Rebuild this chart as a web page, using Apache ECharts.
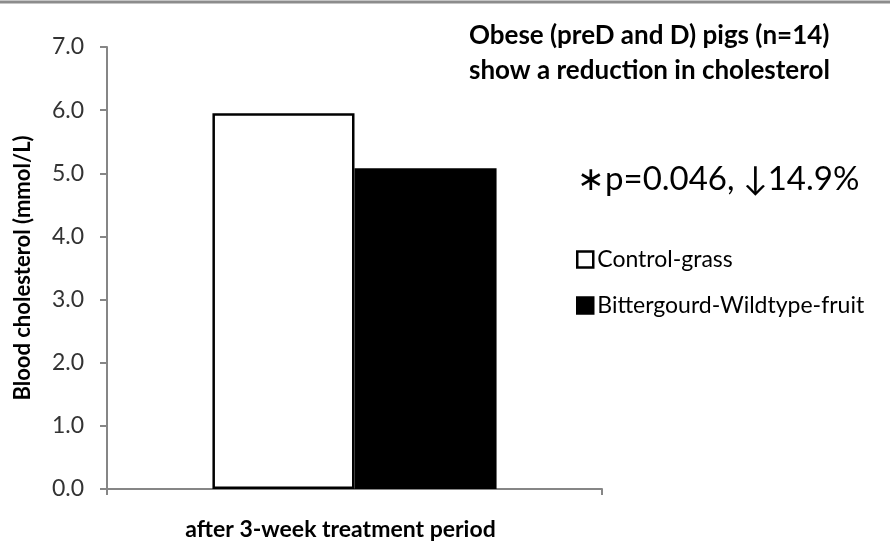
<!DOCTYPE html>
<html><head><meta charset="utf-8">
<script src="https://cdn.jsdelivr.net/npm/echarts@6/dist/echarts.min.js"></script>
<style>html,body{margin:0;padding:0;background:#fff}#c{width:890px;height:559px}</style>
</head><body><div id="c"></div>
<script>
const categories = ['after 3-week treatment period'];
const seriesNames = ['Control-grass', 'Bittergourd-Wildtype-fruit'];
const controlValues = [5.95];
const bittergourdValues = [5.08];
const yTicks = { min: 0, max: 7, interval: 1 };
const titleLines = ['Obese (preD and D) pigs (n=14)', 'show a reduction in cholesterol'];
const annotation = '\u2217p=0.046, \u219314.9%';
const yAxisTitle = 'Blood cholesterol (mmol/L)';

const FONT = 'Lato';
const chart = echarts.init(document.getElementById('c'), null, { renderer: 'canvas' });
chart.setOption({
  animation: false,
  backgroundColor: '#fff',
  textStyle: { fontFamily: FONT },
  grid: { left: 107, top: 47, right: 288, bottom: 70, containLabel: false },
  legend: {
    orient: 'vertical', left: 571, top: 243, itemGap: 23,
    itemWidth: 16, itemHeight: 16, icon: 'rect', itemStyle: { borderWidth: 2.5 },
    textStyle: { fontFamily: FONT, fontSize: 23, color: '#000', padding: [0,0,0,-1] },
    data: seriesNames
  },
  xAxis: {
    type: 'category', data: categories,
    axisLine: { lineStyle: { color: '#868686', width: 2 } },
    axisTick: { show: true, alignWithLabel: false, length: 6, lineStyle: { color: '#868686', width: 2 } },
    axisLabel: { fontFamily: FONT, fontWeight: 'bold', fontSize: 23, color: '#000', margin: 29, padding: [0, 28, 0, 0] }
  },
  yAxis: {
    type: 'value', min: yTicks.min, max: yTicks.max, interval: yTicks.interval,
    name: yAxisTitle, nameLocation: 'middle', nameGap: 73, nameRotate: 90,
    nameTextStyle: { fontFamily: FONT, fontWeight: 'bold', fontSize: 22, color: '#000' },
    axisLine: { show: true, lineStyle: { color: '#868686', width: 2 } },
    axisTick: { show: true, inside: false, length: 7, lineStyle: { color: '#868686', width: 2 } },
    axisLabel: { fontFamily: FONT, fontSize: 23, color: '#333333', margin: 23, formatter: v => v.toFixed(1) },
    splitLine: { show: false }
  },
  series: [
    { name: seriesNames[0], type: 'bar', data: controlValues, barWidth: '28.7%', barGap: '0%',
      itemStyle: { color: '#ffffff', borderColor: '#000', borderWidth: 2.5 } },
    { name: seriesNames[1], type: 'bar', data: bittergourdValues, barWidth: '28.7%',
      itemStyle: { color: '#000000', borderColor: '#000', borderWidth: 0 } }
  ],
  graphic: [
    { type: 'line', shape: { x1: 0, y1: 2, x2: 890, y2: 2 }, style: { stroke: '#8c8c8c', lineWidth: 3 } },
    { type: 'text', left: 469, top: 18, style: { text: titleLines.join('\n'), font: 'bold 26px ' + FONT, fill: '#000', lineHeight: 35 } },
    { type: 'text', left: 577, top: 163, style: { text: annotation, font: '33px ' + FONT, fill: '#000' } }
  ]
});
</script></body></html>
